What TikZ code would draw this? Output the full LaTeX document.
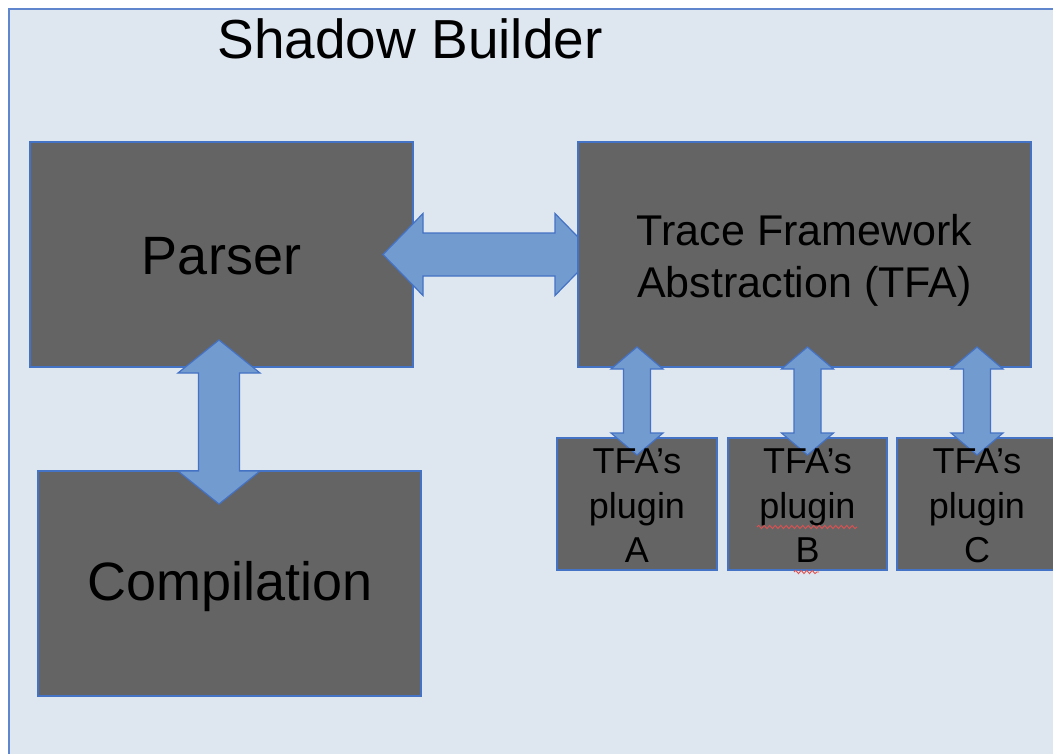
\documentclass[tikz,border=0pt]{standalone}
\usepackage{fontspec}
\setmainfont{Liberation Sans}
\usetikzlibrary{calc,decorations.pathmorphing}

\definecolor{panel}{RGB}{222,230,240}
\definecolor{boxgray}{RGB}{100,100,100}
\definecolor{edgeblue}{RGB}{68,114,196}
\definecolor{arrowblue}{RGB}{114,155,208}
\definecolor{spellred}{RGB}{225,80,80}

% horizontal block arrow with heads at both ends:
% #1 left tip, #2 right tip, #3 half shaft, #4 half head, #5 head length
\newcommand{\hdblarrow}[5]{%
  \path[flowarrow] let \p1=(#1), \p2=(#2) in
    (\x1,\y1) -- (\x1+#5,\y1+#4) -- (\x1+#5,\y1+#3) -- (\x2-#5,\y1+#3)
    -- (\x2-#5,\y1+#4) -- (\x2,\y1) -- (\x2-#5,\y1-#4) -- (\x2-#5,\y1-#3)
    -- (\x1+#5,\y1-#3) -- (\x1+#5,\y1-#4) -- cycle;}
% vertical block arrow with heads at both ends:
% #1 top tip, #2 bottom tip, #3 half shaft, #4 half head, #5 head length
\newcommand{\vdblarrow}[5]{%
  \path[flowarrow] let \p1=(#1), \p2=(#2) in
    (\x1,\y1) -- (\x1+#4,\y1-#5) -- (\x1+#3,\y1-#5) -- (\x1+#3,\y2+#5)
    -- (\x1+#4,\y2+#5) -- (\x1,\y2) -- (\x1-#4,\y2+#5) -- (\x1-#3,\y2+#5)
    -- (\x1-#3,\y1-#5) -- (\x1-#4,\y1-#5) -- cycle;}

\begin{document}
\begin{tikzpicture}[x=1pt,y=-1pt,
  block/.style={draw=edgeblue,line width=1.3pt,fill=boxgray,inner sep=0pt,outer sep=0pt},
  flowarrow/.style={draw=edgeblue,line width=1.2pt,fill=arrowblue,line join=miter},
  biglabel/.style={font=\fontsize{54}{64}\selectfont,text=black},
  midlabel/.style={font=\fontsize{43}{51.5}\selectfont,text=black,align=center},
  smalllabel/.style={font=\fontsize{36}{44.5}\selectfont,text=black,align=center},
  squiggle/.style={spellred,line width=0.9pt,decorate,
    decoration={snake,amplitude=1.6pt,segment length=5.5pt}}]

\useasboundingbox (0,0) rectangle (1053,753);
\clip (0,0) rectangle (1053,753);
\fill[white] (0,0) rectangle (1053,753);

% outer panel
\draw[draw=edgeblue!85,line width=1.6pt,fill=panel] (9,9) rectangle (1080,780);
\node[font=\fontsize{55}{66}\selectfont,anchor=base] (title) at (410,58) {Shadow Builder};

% main blocks
\node[block,minimum width=383pt,minimum height=225pt] (parser) at (221.5,254.5) {};
\node[block,minimum width=383pt,minimum height=225pt] (compilation) at (229.5,583.5) {};

% Parser <-> Compilation
\coordinate (pctop) at ($(parser.south)+(-2.5,-27)$);
\coordinate (pcbot) at ($(compilation.north)+(-10.5,33)$);
\vdblarrow{pctop}{pcbot}{20.5pt}{41pt}{33pt}

% Parser <-> TFA (right head runs under the TFA block)
\node[block,minimum width=453pt,minimum height=225pt] (tfa) at (804.5,254.5) {};
\coordinate (ptleft) at ($(parser.east)+(-30,0)$);
\coordinate (ptright) at ($(tfa.west)+(17,0)$);
\hdblarrow{ptleft}{ptright}{21.5pt}{41pt}{40pt}
% TFA block drawn again over the right arrow head
\node[block,minimum width=453pt,minimum height=225pt] (tfatop) at (tfa.center) {};

% plugin blocks
\node[block,minimum width=160pt,minimum height=132pt] (pluginA) at (637,504) {};
\node[block,minimum width=159pt,minimum height=132pt] (pluginB) at (807.5,504) {};
\node[block,minimum width=160pt,minimum height=132pt] (pluginC) at (977,504) {};

% TFA <-> plugins
\foreach \k in {A,B,C}{
  \coordinate (tptop\k) at ($(tfa.south -| plugin\k.north)+(0,-20)$);
  \coordinate (tpbot\k) at ($(plugin\k.north)+(0,17)$);
  \vdblarrow{tptop\k}{tpbot\k}{13.5pt}{26pt}{22pt}
}

% labels
\node[biglabel] (parserlabel) at ($(parser.center)+(0,2)$) {Parser};
\node[biglabel] (compilationlabel) at ($(compilation.center)+(1,3)$) {Compilation};
\node[midlabel] (tfalabel) at ($(tfa.center)+(0,6)$) {Trace Framework\\Abstraction (TFA)};
\node[smalllabel] (labelA) at ($(pluginA.center)+(0,2)$) {TFA’s\\plugin\\A};
\node[smalllabel] (labelB) at ($(pluginB.center)+(0,2)$) {TFA’s\\plugin\\B};
\node[smalllabel] (labelC) at ($(pluginC.center)+(0,2)$) {TFA’s\\plugin\\C};

% spell-check marks under the middle plugin label
\draw[squiggle] (757,527) -- (857,527);
\draw[squiggle] (794,572) -- (819,572);
\end{tikzpicture}
\end{document}
